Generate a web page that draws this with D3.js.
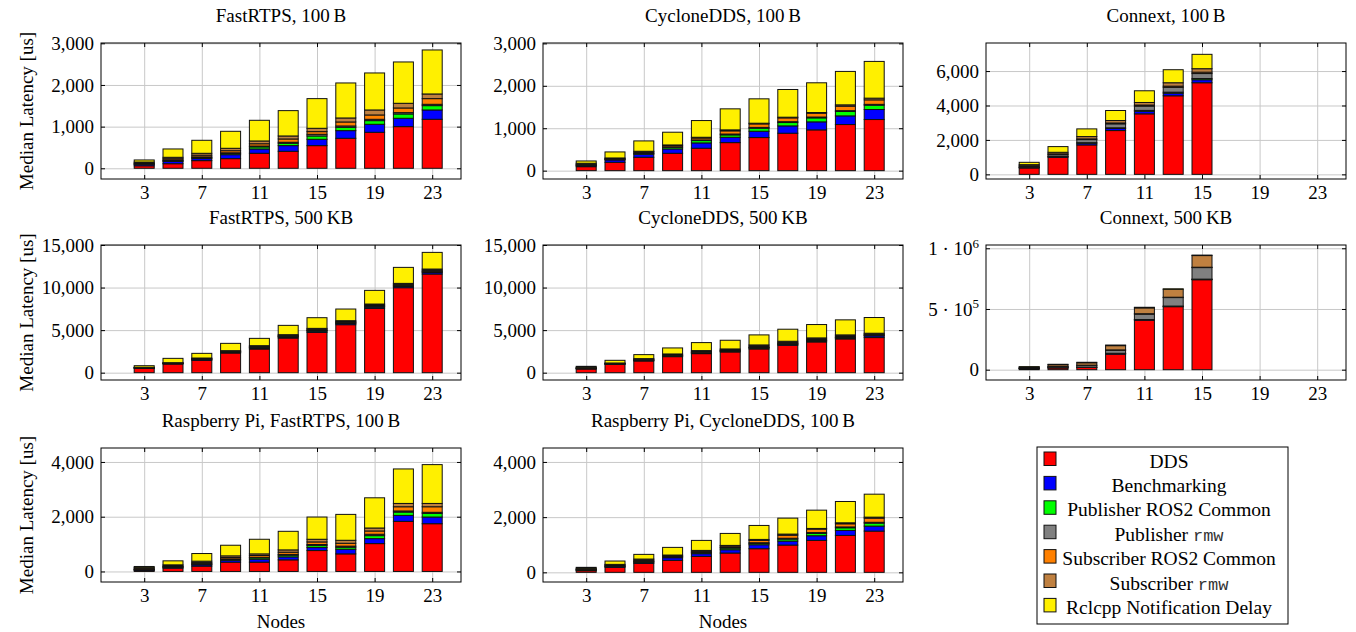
<!DOCTYPE html>
<html><head><meta charset="utf-8">
<script src="https://cdn.jsdelivr.net/npm/d3@7"></script>
<style>body{margin:0;background:#fff} svg{display:block}</style>
</head><body>
<svg id="chart" width="1356" height="632"></svg>
<script>
// ---------- categories / labels ----------
const nodes = [3,5,7,9,11,13,15,17,19,21,23];
const nodesConnext = [3,5,7,9,11,13,15];
const xTickValues = [3,7,11,15,19,23];
const seriesNames = ["DDS","Benchmarking","Publisher ROS2 Common","Publisher rmw","Subscriber ROS2 Common","Subscriber rmw","Rclcpp Notification Delay"];
const seriesColors = ["#ff0000","#0000ff","#00ff00","#808080","#ff8000","#bf8040","#fff000"];

// ---------- data (order: DDS, Benchmarking, Pub ROS2 Common, Pub rmw, Sub ROS2 Common, Sub rmw, Rclcpp) ----------
const fastRtps100B = [
  [60,110,184,232,360,408,544,720,864,1000,1176],
  [30,55,50,95,104,136,152,184,192,200,224],
  [10,20,25,30,50,56,80,80,88,104,104],
  [15,15,15,15,20,25,40,32,32,32,32],
  [15,30,40,50,55,79,64,96,104,112,136],
  [20,34,46,58,67,72,80,96,120,112,112],
  [50,200,312,408,496,608,712,840,888,992,1056]
];
const cyclone100B = [
  [94,197,315,409,528,661,780,882,961,1087,1205],
  [25,55,71,103,126,126,149,173,189,204,236],
  [10,12,20,39,55,56,71,79,94,103,102],
  [10,8,10,10,15,20,20,20,20,20,20],
  [15,15,25,30,45,75,82,90,90,106,106],
  [20,12,16,15,18,23,16,16,16,31,40],
  [54,142,244,300,394,496,575,653,701,788,866]
];
const connext100B = [
  [369,990,1709,2544,3515,4564,5321],
  [30,50,100,120,150,150,175],
  [15,20,30,40,50,60,70],
  [60,100,180,230,250,280,290],
  [20,30,40,50,60,70,80],
  [69,92,135,143,150,197,201],
  [136,330,447,582,680,757,835]
];
const fastRtps500KB = [
  [500,1018,1449,2310,2780,4072,4737,5638,7556,9983,11588],
  [40,50,80,80,120,120,140,140,150,150,170],
  [20,30,50,50,70,70,80,80,90,90,100],
  [20,20,30,30,40,40,50,50,60,60,70],
  [20,30,60,60,80,80,100,100,100,100,120],
  [30,27,54,54,81,81,100,99,109,109,128],
  [190,508,548,861,861,1096,1253,1371,1605,1879,1957]
];
const cyclone500KB = [
  [432,982,1375,1885,2239,2435,2789,3221,3614,3967,4124],
  [40,30,50,60,70,70,100,100,100,100,200],
  [30,30,50,50,60,60,70,70,70,70,70],
  [30,20,30,40,40,40,50,50,50,50,50],
  [40,40,70,80,90,90,120,120,120,120,90],
  [60,37,75,85,93,94,131,131,131,132,101],
  [114,314,471,707,943,1021,1179,1414,1571,1767,1846]
];
const connext500KB = [
  [8000,15000,19000,128000,408000,519000,741000],
  [1000,1000,1000,5000,3000,3000,3000],
  [500,500,1000,2000,2000,2000,2000],
  [5000,10000,15000,25000,45000,70000,95000],
  [500,1000,1000,3000,3000,3000,3000],
  [7000,14000,20000,35000,48000,65000,96000],
  [3000,3000,4000,5000,5000,4000,4000]
];
const rpiFastRtps100B = [
  [40,121,194,339,339,424,764,642,1018,1830,1745],
  [20,30,50,70,110,109,109,170,182,218,243],
  [10,15,25,30,50,60,72,73,109,122,133],
  [10,10,15,20,20,30,40,40,50,40,40],
  [20,30,40,50,65,80,94,105,120,154,203],
  [40,36,52,61,58,85,97,109,109,121,121],
  [42,146,279,388,534,679,812,946,1103,1260,1418]
];
const rpiCyclone100B = [
  [60,181,325,434,578,699,856,988,1157,1338,1494],
  [20,30,40,96,97,120,144,145,169,180,181],
  [10,15,20,30,40,60,48,72,84,97,108],
  [10,15,20,15,20,20,25,30,30,30,30],
  [15,25,35,30,30,50,85,110,127,114,151],
  [30,23,42,22,30,27,35,41,24,36,36],
  [36,121,169,277,362,434,506,578,662,772,832]
];

// ---------- tick values ----------
const ticks100B = [0,1000,2000,3000];
const ticksConnext100B = [0,2000,4000,6000];
const ticks500KB = [0,5000,10000,15000];
const ticksConnext500KB = [0,500000,1000000];
const ticksRpi = [0,2000,4000];

// ---------- layout ----------
const colLeft = [101, 543, 986];
const rowTop = [43, 245, 448];
const rowBottom = [179, 380, 582];
const panelW = 360;
const FONT = "'Liberation Serif', 'Times New Roman', serif";
const MONO = "'Liberation Mono', 'DejaVu Sans Mono', monospace";

const sciFmt = v => v === 0 ? "0" : (v === 1000000 ? "1 \u00b7 10^6" : "5 \u00b7 10^5");
const commaFmt = d3.format(",");

const panels = [
  {title:"FastRTPS, 100\u2009B", data:fastRtps100B, cats:nodes, col:0, row:0, yDomain:[-257,3007], ticks:ticks100B, fmt:commaFmt},
  {title:"CycloneDDS, 100\u2009B", data:cyclone100B, cats:nodes, col:1, row:0, yDomain:[-197,3009], ticks:ticks100B, fmt:commaFmt},
  {title:"Connext, 100\u2009B", data:connext100B, cats:nodesConnext, col:2, row:0, yDomain:[-270,7630], ticks:ticksConnext100B, fmt:commaFmt},
  {title:"FastRTPS, 500\u2009KB", data:fastRtps500KB, cats:nodes, col:0, row:1, yDomain:[-860,15000], ticks:ticks500KB, fmt:commaFmt},
  {title:"CycloneDDS, 500\u2009KB", data:cyclone500KB, cats:nodes, col:1, row:1, yDomain:[-860,15000], ticks:ticks500KB, fmt:commaFmt},
  {title:"Connext, 500\u2009KB", data:connext500KB, cats:nodesConnext, col:2, row:1, yDomain:[-85000,1027000], ticks:ticksConnext500KB, fmt:sciFmt},
  {title:"Raspberry Pi, FastRTPS, 100\u2009B", data:rpiFastRtps100B, cats:nodes, col:0, row:2, yDomain:[-385,4510], ticks:ticksRpi, fmt:commaFmt, xlabel:true},
  {title:"Raspberry Pi, CycloneDDS, 100\u2009B", data:rpiCyclone100B, cats:nodes, col:1, row:2, yDomain:[-350,4505], ticks:ticksRpi, fmt:commaFmt, xlabel:true}
];

const svg = d3.select("#chart");

panels.forEach(p => {
  const left = colLeft[p.col], top = rowTop[p.row], h = rowBottom[p.row] - rowTop[p.row], w = panelW;
  const g = svg.append("g").attr("transform", `translate(${left},${top})`);
  const x = d3.scaleLinear().domain([0,25]).range([0,w]);
  const y = d3.scaleLinear().domain(p.yDomain).range([h,0]);

  // grid
  const gridStyle = s => { s.select(".domain").remove(); s.selectAll("line").attr("stroke","#c8c8c8").attr("stroke-width",1); };
  g.append("g").call(d3.axisLeft(y).tickValues(p.ticks).tickSize(-w).tickFormat("")).call(gridStyle);
  g.append("g").attr("transform",`translate(0,${h})`).call(d3.axisBottom(x).tickValues(xTickValues).tickSize(-h).tickFormat("")).call(gridStyle);

  // stacked bars
  const rows = p.cats.map((c,i) => { const r = {node:c}; seriesNames.forEach((s,k) => r[s] = p.data[k][i]); return r; });
  const layers = d3.stack().keys(seriesNames)(rows);
  layers.forEach((layer,k) => {
    g.append("g").attr("fill", seriesColors[k]).attr("stroke","#111").attr("stroke-width",1)
      .selectAll("rect").data(layer).join("rect")
      .attr("x", d => x(d.data.node) - 10).attr("width", 20)
      .attr("y", d => y(d[1])).attr("height", d => Math.max(0, y(d[0]) - y(d[1])));
  });

  // ticks (inside) and labels
  const axStyle = s => { s.select(".domain").remove(); s.selectAll("line").attr("stroke","#000"); s.selectAll("text").attr("font-family",FONT).attr("font-size",19).attr("fill","#000"); };
  const ly = g.append("g").call(d3.axisLeft(y).tickValues(p.ticks).tickSizeInner(-4).tickSizeOuter(0).tickPadding(7).tickFormat(p.fmt)).call(axStyle);
  g.append("g").attr("transform",`translate(${w},0)`).call(d3.axisRight(y).tickValues(p.ticks).tickSizeInner(-4).tickSizeOuter(0).tickFormat("")).call(axStyle);
  g.append("g").attr("transform",`translate(0,${h})`).call(d3.axisBottom(x).tickValues(xTickValues).tickSizeInner(-4).tickSizeOuter(0).tickPadding(7)).call(axStyle);
  g.append("g").call(d3.axisTop(x).tickValues(xTickValues).tickSizeInner(-4).tickSizeOuter(0).tickFormat("")).call(axStyle);

  // superscripts
  ly.selectAll("text").each(function() {
    const t = d3.select(this), s = t.text();
    if (s.includes("^")) {
      const [base, sup] = s.split("^");
      t.text(null);
      t.append("tspan").text(base);
      t.append("tspan").attr("font-size",13).attr("dy","-0.55em").text(sup);
    }
  });

  // frame
  g.append("rect").attr("width",w).attr("height",h).attr("fill","none").attr("stroke","#000").attr("stroke-width",1);

  // title
  g.append("text").attr("x",w/2).attr("y",-21).attr("text-anchor","middle")
    .attr("font-family",FONT).attr("font-size",19).text(p.title);

  if (p.col === 0) {
    svg.append("text").attr("transform",`translate(33,${top + h/2}) rotate(-90)`).attr("text-anchor","middle")
      .attr("font-family",FONT).attr("font-size",19).text("Median Latency [us]");
  }
  if (p.xlabel) {
    svg.append("text").attr("x",left + w/2).attr("y",628).attr("text-anchor","middle")
      .attr("font-family",FONT).attr("font-size",19).text("Nodes");
  }
});

// ---------- legend ----------
const lg = svg.append("g");
lg.append("rect").attr("x",1037).attr("y",447).attr("width",251).attr("height",177)
  .attr("fill","#fff").attr("stroke","#000").attr("stroke-width",1);
seriesNames.forEach((name,i) => {
  const cy = 461.5 + i*24.4;
  lg.append("rect").attr("x",1044).attr("y",cy-9.5).attr("width",12).attr("height",13.5)
    .attr("fill",seriesColors[i]).attr("stroke","#111").attr("stroke-width",1);
  const t = lg.append("text").attr("x",1169).attr("y",cy+6).attr("text-anchor","middle")
    .attr("font-family",FONT).attr("font-size",19.5);
  if (name.endsWith(" rmw")) {
    t.append("tspan").text(name.slice(0,-3));
    t.append("tspan").attr("font-family",MONO).attr("font-size",17).attr("fill","#333").text("rmw");
  } else {
    t.text(name);
  }
});
</script>
</body></html>
